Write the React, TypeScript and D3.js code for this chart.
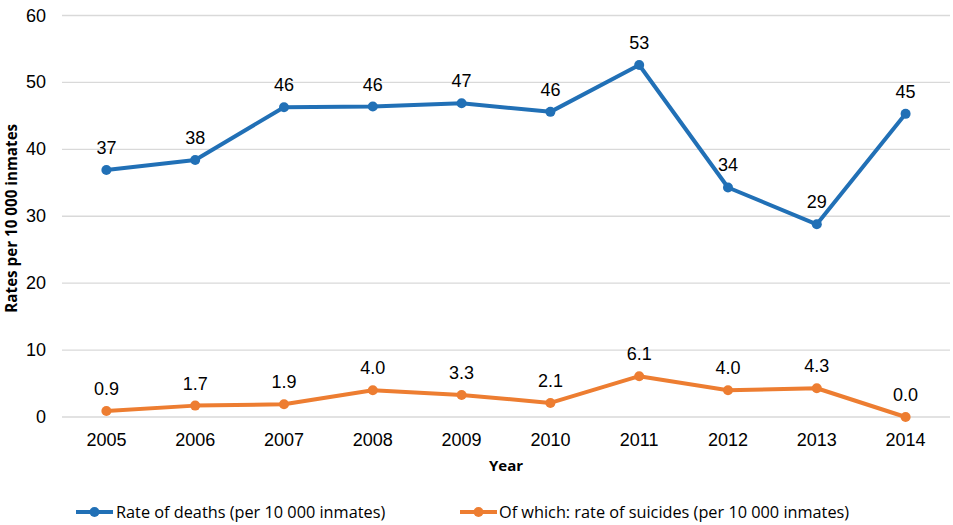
import React from "react";
import * as d3 from "d3";

const years = ["2005", "2006", "2007", "2008", "2009", "2010", "2011", "2012", "2013", "2014"];
const deaths = [36.9, 38.4, 46.3, 46.4, 46.9, 45.6, 52.6, 34.3, 28.8, 45.3];
const deathLabels = ["37", "38", "46", "46", "47", "46", "53", "34", "29", "45"];
const suicides = [0.9, 1.7, 1.9, 4.0, 3.3, 2.1, 6.1, 4.0, 4.3, 0.0];
const suicideLabels = ["0.9", "1.7", "1.9", "4.0", "3.3", "2.1", "6.1", "4.0", "4.3", "0.0"];
const yTicks = [0, 10, 20, 30, 40, 50, 60];
const seriesNames = ["Rate of deaths (per 10 000 inmates)", "Of which: rate of suicides (per 10 000 inmates)"];

const BLUE = "#2170b6";
const ORANGE = "#ed7d31";

export default function App() {
  const W = 953, H = 525;
  const left = 62, right = 950, top = 15.5, bottom = 417;
  const x = d3.scaleBand<string>().domain(years).range([left, right]);
  const y = d3.scaleLinear().domain([0, 60]).range([bottom, top]);
  const cx = (yr: string) => (x(yr) as number) + x.bandwidth() / 2;
  const line = d3.line<number>().x((_, i) => cx(years[i])).y((d) => y(d));

  const series = [
    { values: deaths, labels: deathLabels, color: BLUE },
    { values: suicides, labels: suicideLabels, color: ORANGE },
  ];
  const tickFont = "'Liberation Sans', Arial, sans-serif";
  const legendFont = "'Open Sans', sans-serif";

  return (
    <svg width={W} height={H} style={{ position: "absolute", left: 0, top: 0, background: "#fff" }}>
      {yTicks.map((t) => (
        <g key={t}>
          <line x1={left} x2={right} y1={y(t)} y2={y(t)} stroke="#d9d9d9" strokeWidth={1.3} />
          <text x={46} y={y(t)} textAnchor="end" dominantBaseline="central" fontFamily={tickFont} fontSize={18} fill="#000">
            {t}
          </text>
        </g>
      ))}
      {years.map((yr) => (
        <text key={yr} x={cx(yr)} y={445.5} textAnchor="middle" fontFamily={tickFont} fontSize={18} fill="#000">
          {yr}
        </text>
      ))}
      <text x={(left + right) / 2} y={471} textAnchor="middle" fontFamily={legendFont} fontWeight="bold" fontSize={15} fill="#000">
        Year
      </text>
      <text
        transform={`translate(17,${(top + bottom) / 2 + 2}) rotate(-90)`}
        textAnchor="middle"
        fontFamily={legendFont}
        fontWeight="bold"
        fontSize={15.2}
        fill="#000"
      >
        Rates per 10 000 inmates
      </text>
      {series.map((s, si) => (
        <g key={si}>
          <path d={line(s.values) || ""} fill="none" stroke={s.color} strokeWidth={4} strokeLinejoin="round" />
          {s.values.map((v, i) => (
            <circle key={i} cx={cx(years[i])} cy={y(v)} r={5} fill={s.color} />
          ))}
          {s.values.map((v, i) => (
            <text key={"l" + i} x={cx(years[i])} y={y(v) - 16} textAnchor="middle" fontFamily={tickFont} fontSize={18} fill="#000">
              {s.labels[i]}
            </text>
          ))}
        </g>
      ))}
      {[{ x0: 76, tx: 116 }, { x0: 460, tx: 499 }].map((l, i) => (
        <g key={i}>
          <line x1={l.x0} x2={l.x0 + 37} y1={512} y2={512} stroke={series[i].color} strokeWidth={4} />
          <circle cx={l.x0 + 18.5} cy={512} r={5} fill={series[i].color} />
          <text x={l.tx} y={517.5} fontFamily={legendFont} fontSize={16.3} fill="#000">
            {seriesNames[i]}
          </text>
        </g>
      ))}
    </svg>
  );
}
